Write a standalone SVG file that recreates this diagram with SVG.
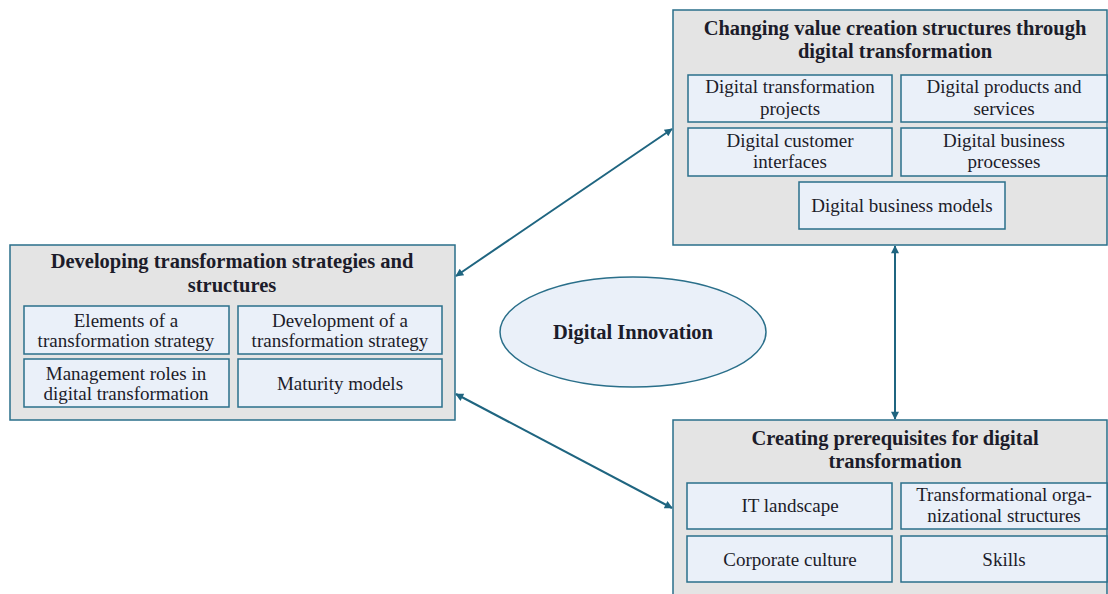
<svg xmlns="http://www.w3.org/2000/svg" width="1108" height="594" viewBox="0 0 1108 594">
<defs>
<marker id="ah" viewBox="0 0 10 10" refX="9" refY="5" markerWidth="10" markerHeight="8" orient="auto-start-reverse" markerUnits="userSpaceOnUse"><path d="M0,0 L10,5 L0,10 z" fill="#1f6580"/></marker>
<style>
.outer{fill:#e4e4e4;stroke:#2a6f8a;stroke-width:1.5}
.inner{fill:#eaf0f9;stroke:#2a6f8a;stroke-width:1.5}
.t{font-weight:bold;font-size:20.5px;fill:#1c1c2a;text-anchor:middle}
.i{font-size:19px;fill:#1c1c2a;text-anchor:middle}
.c{stroke:#1f6580;stroke-width:2;fill:none;marker-start:url(#ah);marker-end:url(#ah)}
</style>
</defs>
<rect width="1108" height="594" fill="#fff"/>
<g id="connectors">
<line class="c" x1="456" y1="276" x2="672" y2="129"/>
<line class="c" x1="456" y1="394" x2="672" y2="508"/>
<line class="c" x1="895" y1="246" x2="895" y2="419"/>
</g>
<g font-family="Liberation Serif, Times New Roman, serif">
<g id="left">
<rect class="outer" x="10" y="245" width="445" height="175"/>
<text class="t" x="232" y="268">Developing transformation strategies and</text>
<text class="t" x="232" y="292">structures</text>
<rect class="inner" x="24" y="306" width="205" height="48"/>
<text class="i" x="126" y="327">Elements of a</text>
<text class="i" x="126" y="347">transformation strategy</text>
<rect class="inner" x="238" y="306" width="204" height="48"/>
<text class="i" x="340" y="327">Development of a</text>
<text class="i" x="340" y="347">transformation strategy</text>
<rect class="inner" x="24" y="359" width="205" height="48"/>
<text class="i" x="126" y="380">Management roles in</text>
<text class="i" x="126" y="400">digital transformation</text>
<rect class="inner" x="238" y="359" width="204" height="48"/>
<text class="i" x="340" y="390">Maturity models</text>
</g>
<g id="top">
<rect class="outer" x="673" y="10" width="434" height="235"/>
<text class="t" x="895" y="35">Changing value creation structures through</text>
<text class="t" x="895" y="58">digital transformation</text>
<rect class="inner" x="688" y="75" width="204" height="47"/>
<text class="i" x="790" y="93">Digital transformation</text>
<text class="i" x="790" y="115">projects</text>
<rect class="inner" x="901" y="75" width="206" height="47"/>
<text class="i" x="1004" y="93">Digital products and</text>
<text class="i" x="1004" y="115">services</text>
<rect class="inner" x="688" y="128" width="204" height="48"/>
<text class="i" x="790" y="147">Digital customer</text>
<text class="i" x="790" y="168">interfaces</text>
<rect class="inner" x="901" y="128" width="206" height="48"/>
<text class="i" x="1004" y="147">Digital business</text>
<text class="i" x="1004" y="168">processes</text>
<rect class="inner" x="799" y="182" width="206" height="47"/>
<text class="i" x="902" y="212">Digital business models</text>
</g>
<g id="bottom">
<rect class="outer" x="673" y="420" width="434" height="180"/>
<text class="t" x="895" y="445">Creating prerequisites for digital</text>
<text class="t" x="895" y="468">transformation</text>
<rect class="inner" x="687" y="483" width="205" height="46"/>
<text class="i" x="790" y="512">IT landscape</text>
<rect class="inner" x="901" y="483" width="206" height="46"/>
<text class="i" x="1004" y="501">Transformational orga-</text>
<text class="i" x="1004" y="522">nizational structures</text>
<rect class="inner" x="687" y="536" width="205" height="46"/>
<text class="i" x="790" y="566">Corporate culture</text>
<rect class="inner" x="901" y="536" width="206" height="46"/>
<text class="i" x="1004" y="566">Skills</text>
</g>
<g id="center">
<ellipse cx="633" cy="332" rx="133" ry="55" fill="#eaf0f9" stroke="#2a6f8a" stroke-width="1.5"/>
<text class="t" x="633" y="339">Digital Innovation</text>
</g>
</g>
</svg>
